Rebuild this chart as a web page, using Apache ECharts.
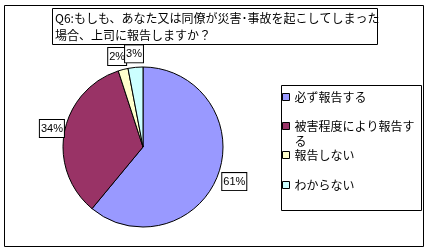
<!DOCTYPE html>
<html><head><meta charset="utf-8">
<script src="https://cdn.jsdelivr.net/npm/echarts@6/dist/echarts.min.js"></script>
<style>html,body{margin:0;padding:0;background:#fff}#c{width:429px;height:251px}</style>
</head><body><div id="c"></div>
<script>
const titleText = 'Q6:もしも、あなた又は同僚が災害･事故を起こしてしまった\n場合、上司に報告しますか？';
const categories = ['必ず報告する', '被害程度により報告する', '報告しない', 'わからない'];
const values = [61, 34, 2, 3];
const colors = ['#9999FF', '#993366', '#FFFFCC', '#CCFFFF'];
const labelNudge = [[-1, 7.5], [4.5, -3.5], [8, -13], [12.5, -13.5]];
const JP = '"Noto Sans CJK JP", sans-serif';

const chart = echarts.init(document.getElementById('c'), null, {renderer: 'canvas'});
chart.setOption({
  animation: false,
  backgroundColor: '#fff',
  color: colors,
  graphic: [
    {type: 'rect', shape: {x: 4.5, y: 5.5, width: 419, height: 241}, style: {fill: 'none', stroke: '#000', lineWidth: 1}, z: 0},
    {type: 'rect', shape: {x: 52.5, y: 8.5, width: 325, height: 36}, style: {fill: '#fff', stroke: '#000', lineWidth: 1}, z: 0},
    {type: 'rect', shape: {x: 281.5, y: 85.5, width: 140, height: 125}, style: {fill: '#fff', stroke: '#000', lineWidth: 1}, z: 0}
  ],
  title: {
    text: titleText, left: 55, top: 9.5, padding: 0, z: 10,
    textStyle: {fontFamily: JP, fontSize: 12, fontWeight: 'normal', color: '#000', lineHeight: 17}
  },
  legend: {
    orient: 'vertical', left: 282, top: 73.5, padding: 0, itemGap: -17,
    itemWidth: 7, itemHeight: 7, icon: 'rect', z: 10,
    itemStyle: {borderColor: '#000', borderWidth: 1},
    formatter: function (name) { return name === categories[1] ? '\n' + name : name; },
    textStyle: {fontFamily: JP, fontSize: 12, color: '#000', lineHeight: 47, width: 126, overflow: 'break'},
    data: categories.map((n, i) => i === 1
      ? {name: n, textStyle: {lineHeight: 15}}
      : {name: n})
  },
  series: [{
    type: 'pie', center: [143, 147], radius: 80, startAngle: 90, clockwise: true,
    avoidLabelOverlap: false, z: 5,
    itemStyle: {borderColor: '#000', borderWidth: 1},
    label: {
      show: true, position: 'outside', formatter: '{c}%',
      fontFamily: 'Arial, "Liberation Sans", sans-serif', fontSize: 11, color: '#000',
      backgroundColor: '#fff', borderColor: '#000', borderWidth: 1, padding: [3, 1, 2, 1], lineHeight: 12
    },
    labelLine: {show: false, length: 0, length2: 0},
    labelLayout: function (p) { const n = labelNudge[p.dataIndex]; return {dx: n[0], dy: n[1]}; },
    emphasis: {disabled: true},
    data: categories.map((n, i) => ({name: n, value: values[i]}))
  }]
});
</script></body></html>
